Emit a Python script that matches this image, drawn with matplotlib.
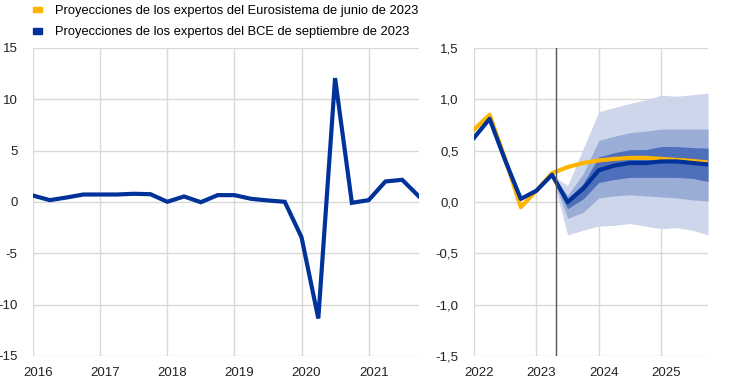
import matplotlib
matplotlib.use('Agg')
import matplotlib.pyplot as plt
import matplotlib.transforms as mtransforms
from matplotlib.patches import Patch
from matplotlib.ticker import FuncFormatter
import numpy as np

plt.rcParams['font.family'] = ['Liberation Sans', 'DejaVu Sans']
plt.rcParams['font.size'] = 9.5
plt.rcParams['axes.unicode_minus'] = False

# left panel: 2016Q1 - 2021Q4
hist_start = 2016
hist_vals = [0.63, 0.18, 0.44, 0.73, 0.73, 0.73, 0.80, 0.76,
             0.02, 0.54, -0.02, 0.67, 0.67, 0.31, 0.15, 0.02,
             -3.43, -11.35, 12.07, -0.08, 0.18, 2.0, 2.16, 0.54]

# right panel: 2022Q1 - 2025Q4
proj_start = 2022
sept_vals = [0.625, 0.81, 0.405, 0.03, 0.11, 0.265, 0.0, 0.13,
             0.31, 0.355, 0.38, 0.38, 0.395, 0.395, 0.38, 0.366]
june_vals = [0.705, 0.85, 0.42, -0.05, 0.11, 0.28, 0.34, 0.38,
             0.405, 0.42, 0.43, 0.43, 0.42, 0.41, 0.40, 0.385]

# fan chart bands, from 2023Q2 to 2025Q4
band_start = 5
outer_hi = [0.265, 0.16, 0.52, 0.88, 0.92, 0.96, 0.995, 1.04, 1.03, 1.045, 1.06]
outer_lo = [0.265, -0.32, -0.275, -0.235, -0.227, -0.21, -0.235, -0.26, -0.25, -0.275, -0.32]
mid_hi = [0.265, 0.065, 0.275, 0.60, 0.64, 0.675, 0.69, 0.71, 0.71, 0.71, 0.71]
mid_lo = [0.265, -0.16, -0.10, 0.04, 0.06, 0.07, 0.06, 0.05, 0.04, 0.02, 0.01]
in_hi = [0.265, 0.03, 0.18, 0.44, 0.48, 0.51, 0.51, 0.54, 0.54, 0.53, 0.525]
in_lo = [0.265, -0.065, 0.03, 0.19, 0.22, 0.24, 0.24, 0.24, 0.24, 0.23, 0.20]

cutoff = 2023.32

BLUE = '#003299'
YELLOW = '#FFB400'
GRID = '#d9d9d9'

fig = plt.figure(figsize=(7.44, 3.83), dpi=100)
W, H = 744, 383
axl = fig.add_axes([33 / W, (H - 356) / H, (419 - 33) / W, (356 - 48) / H])
axr = fig.add_axes([474 / W, (H - 356) / H, (708 - 474) / W, (356 - 48) / H])

xh = hist_start + np.arange(len(hist_vals)) / 4
axl.plot(xh, hist_vals, color=BLUE, lw=3, solid_joinstyle='miter', zorder=3)
axl.set_xlim(hist_start, xh[-1])
axl.set_ylim(-15, 15)
axl.set_yticks(range(-15, 16, 5))
axl.set_xticks(range(2016, 2022))

xp = proj_start + np.arange(len(sept_vals)) / 4
xb = xp[band_start:]
axr.fill_between(xb, outer_lo, outer_hi, color='#cdd6ea', lw=0, zorder=1)
axr.fill_between(xb, mid_lo, mid_hi, color='#9aadd7', lw=0, zorder=1)
axr.fill_between(xb, in_lo, in_hi, color='#4e6fb9', lw=0, zorder=1)
axr.plot(xp, june_vals, color=YELLOW, lw=3, zorder=3)
axr.plot(xp, sept_vals, color=BLUE, lw=3, zorder=4)
axr.axvline(cutoff, color='#555555', lw=1, zorder=5)
axr.set_xlim(proj_start, xp[-1])
axr.set_ylim(-1.5, 1.5)
axr.set_yticks(np.arange(-1.5, 1.51, 0.5))
axr.set_xticks(range(2022, 2026))
axr.yaxis.set_major_formatter(FuncFormatter(lambda v, p: f'{v:.1f}'.replace('.', ',')))

for ax in (axl, axr):
    for s in ax.spines.values():
        s.set_visible(False)
    ax.grid(True, color=GRID, lw=1)
    ax.set_axisbelow(True)
    ax.tick_params(length=0, pad=8, labelcolor='#222222')
    ax.tick_params(axis='y', pad=11)
    offset = mtransforms.ScaledTranslation(5 / 100, 0, fig.dpi_scale_trans)
    for lab in ax.get_xticklabels():
        lab.set_transform(lab.get_transform() + offset)

handles = [Patch(color=YELLOW), Patch(color=BLUE)]
labels = ['Proyecciones de los expertos del Eurosistema de junio de 2023',
          'Proyecciones de los expertos del BCE de septiembre de 2023']
fig.legend(handles, labels, loc='upper left', bbox_to_anchor=(32 / W, 1 - 4 / H),
           frameon=False, handlelength=0.7, handleheight=0.3, handletextpad=0.95,
           labelspacing=0.7, borderaxespad=0.0, borderpad=0.1, fontsize=9.3)

fig.savefig('out.png', dpi=100)
